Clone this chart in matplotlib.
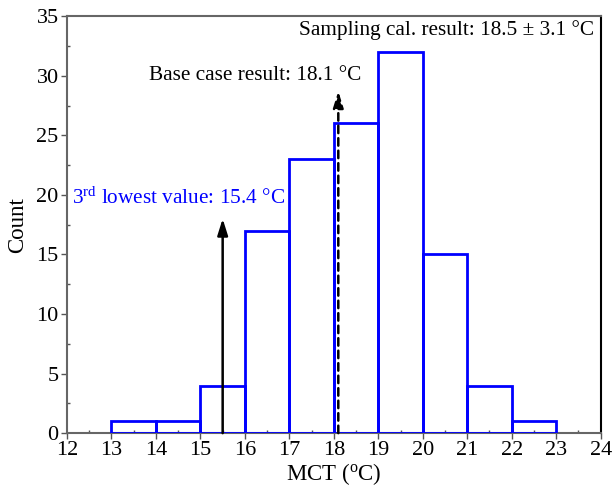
import numpy as np
import matplotlib
matplotlib.use('Agg')
import matplotlib.pyplot as plt
from matplotlib.ticker import MultipleLocator

matplotlib.rcParams['font.family'] = ['Liberation Serif', 'DejaVu Serif']
matplotlib.rcParams['mathtext.fontset'] = 'custom'
matplotlib.rcParams['mathtext.rm'] = 'Liberation Serif'
matplotlib.rcParams['mathtext.it'] = 'Liberation Serif:italic'

# 直方图数据
bin_left = [13, 14, 15, 16, 17, 18, 19, 20, 21, 22]
counts = [1, 1, 4, 17, 23, 26, 32, 15, 4, 1]

third_lowest = 15.5
third_lowest_top = 18
base_case = 18.1
base_case_top = 28.7

fig = plt.figure(figsize=(6.12, 4.9), dpi=100)
ax = fig.add_axes([0.1095, 0.116, 0.872, 0.851])

ax.bar(bin_left, counts, width=1, align='edge', fill=False,
       edgecolor='#0000ff', linewidth=2, zorder=3)

# 箭头
head = '-|>,head_width=0.22,head_length=0.7'
ax.annotate('', xy=(third_lowest, third_lowest_top), xytext=(third_lowest, 0),
            arrowprops=dict(arrowstyle=head, color='black', lw=1.8,
                            mutation_scale=14, shrinkA=0, shrinkB=0), zorder=4)
ax.annotate('', xy=(base_case, base_case_top), xytext=(base_case, 0),
            arrowprops=dict(arrowstyle=head, color='black', lw=1.8, ls=(0, (3, 2)),
                            mutation_scale=14, shrinkA=0, shrinkB=0), zorder=4)

ax.text(12.11, 19.7, '3$^{\\rm rd}$ lowest value: 15.4 °C', color='#0000ff',
        fontsize=15.3, va='center', ha='left')
ax.text(13.85, 30.0, 'Base case result: 18.1 °C', color='black',
        fontsize=15.3, va='center', ha='left')
ax.text(23.85, 33.8, 'Sampling cal. result: 18.5 ± 3.1 °C', color='black',
        fontsize=15.3, va='center', ha='right')

ax.set_xlim(12, 24)
ax.set_ylim(0, 35)
ax.xaxis.set_major_locator(MultipleLocator(1))
ax.xaxis.set_minor_locator(MultipleLocator(0.5))
ax.yaxis.set_major_locator(MultipleLocator(5))
ax.yaxis.set_minor_locator(MultipleLocator(2.5))
ax.tick_params(which='major', direction='out', length=4, width=1, labelsize=16,
               color='#555555')
ax.tick_params(axis='x', which='major', pad=1.5)
ax.tick_params(axis='y', which='major', pad=2)
ax.tick_params(which='minor', direction='in', length=2, width=1, color='#555555')

for side in ['left', 'top', 'bottom']:
    ax.spines[side].set_color('#666666')
    ax.spines[side].set_linewidth(1.5)
ax.spines['right'].set_color('black')
ax.spines['right'].set_linewidth(1.5)

ax.set_xlabel('MCT ($^{\\rm o}$C)', fontsize=16.5, labelpad=1)
ax.set_ylabel('Count', fontsize=16.5, labelpad=6)

fig.savefig('out.png', dpi=100)
